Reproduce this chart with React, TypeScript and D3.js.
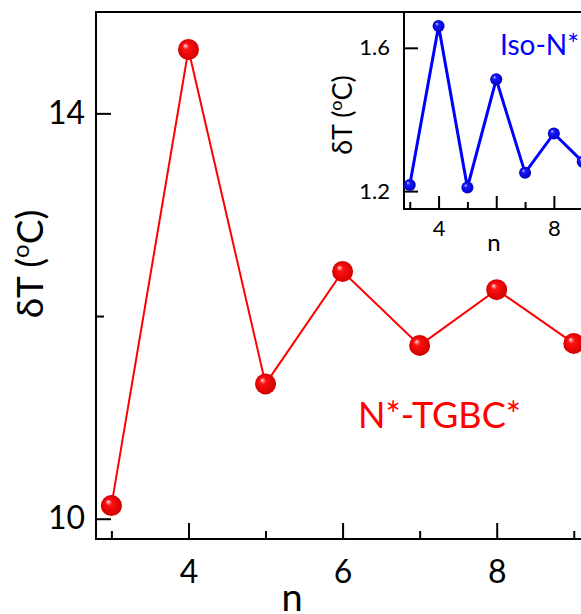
import * as d3 from "d3";
import { useEffect, useRef } from "react";

// values
const nValues = [3, 4, 5, 6, 7, 8, 9];
const mainDeltaT = [10.13, 14.63, 11.33, 12.44, 11.71, 12.26, 11.73];
const insetDeltaT = [1.217, 1.661, 1.21, 1.512, 1.251, 1.361, 1.282];

const mainXMajor = [4, 6, 8];
const mainXMinor = [3, 5, 7, 9];
const mainYMajor = [10, 14];
const mainYMinor = [12];
const insetXMajor = [4, 6, 8];
const insetXLabels = [4, 8];
const insetXMinor = [3, 5, 7, 9];
const insetYMajor = [1.2, 1.6];

const FONT = "Lato, 'Open Sans', sans-serif";

export default function App() {
  const ref = useRef<SVGSVGElement>(null);

  useEffect(() => {
    const svg = d3.select(ref.current);
    svg.selectAll("*").remove();

    const defs = svg.append("defs");
    const ballGrad = (id: string, light: string, mid: string, dark: string) => {
      const g = defs.append("radialGradient")
        .attr("id", id)
        .attr("cx", "50%").attr("cy", "50%").attr("r", "50%")
        .attr("fx", "33%").attr("fy", "30%");
      g.append("stop").attr("offset", "0%").attr("stop-color", light);
      g.append("stop").attr("offset", "30%").attr("stop-color", mid);
      g.append("stop").attr("offset", "100%").attr("stop-color", dark);
    };
    ballGrad("redBall", "#ffe0e0", "#ff1010", "#d00000");
    ballGrad("blueBall", "#d0d0ff", "#1a1aff", "#0000c0");

    // main panel
    const x = d3.scaleLinear().domain([2.8, 9.6]).range([96, 620]);
    const y = d3.scaleLinear().domain([9.8, 15.0]).range([539, 12]);

    const main = svg.append("g");

    const xMaj = main.append("g")
      .attr("transform", "translate(0,539)")
      .call(d3.axisBottom(x).tickValues(mainXMajor).tickSize(-16).tickPadding(21).tickFormat(d3.format("d")));
    main.append("g")
      .attr("transform", "translate(0,539)")
      .call(d3.axisBottom(x).tickValues(mainXMinor).tickSize(-8).tickFormat(() => ""));
    const yMaj = main.append("g")
      .attr("transform", "translate(96,0)")
      .call(d3.axisLeft(y).tickValues(mainYMajor).tickSize(-15).tickPadding(11).tickFormat(d3.format("d")));
    main.append("g")
      .attr("transform", "translate(96,0)")
      .call(d3.axisLeft(y).tickValues(mainYMinor).tickSize(-8).tickFormat(() => ""));

    main.selectAll(".domain").remove();
    main.selectAll(".tick line").attr("stroke", "#000").attr("stroke-width", 2);
    [xMaj, yMaj].forEach(g => g.selectAll("text")
      .attr("font-family", FONT).attr("font-size", 32).attr("fill", "#000"));

    // frame
    main.append("path")
      .attr("d", "M620,12H96V539H620")
      .attr("fill", "none").attr("stroke", "#000").attr("stroke-width", 2);

    const line = d3.line<number>().x((_, i) => x(nValues[i])).y(d => y(d));
    main.append("path")
      .attr("d", line(mainDeltaT))
      .attr("fill", "none").attr("stroke", "#ff0000").attr("stroke-width", 2);
    main.selectAll("circle.pt")
      .data(mainDeltaT)
      .join("circle")
      .attr("class", "pt")
      .attr("cx", (_, i) => x(nValues[i]))
      .attr("cy", d => y(d))
      .attr("r", 10.5)
      .attr("fill", "url(#redBall)");

    main.append("text")
      .attr("x", 292).attr("y", 611)
      .attr("text-anchor", "middle")
      .attr("font-family", FONT).attr("font-size", 38)
      .text("n");

    const yl = main.append("text")
      .attr("transform", "translate(43,264) rotate(-90)")
      .attr("text-anchor", "middle")
      .attr("font-family", FONT).attr("font-size", 37);
    yl.append("tspan").text("δT (");
    yl.append("tspan").attr("font-size", 24).attr("dy", -14).text("o");
    yl.append("tspan").attr("dy", 14).text("C)");

    main.append("text")
      .attr("x", 358).attr("y", 428)
      .attr("font-family", FONT).attr("font-size", 36)
      .attr("fill", "#ff0000")
      .text("N*-TGBC*");

    // inset
    const xi = d3.scaleLinear().domain([2.8, 9.6]).range([404, 600]);
    const yi = d3.scaleLinear().domain([1.15, 1.7]).range([209, 12]);

    const inset = svg.append("g");
    inset.append("rect")
      .attr("x", 404).attr("y", 12).attr("width", 216).attr("height", 197)
      .attr("fill", "#fff").attr("stroke", "#000").attr("stroke-width", 2);

    inset.append("g")
      .attr("transform", "translate(0,209)")
      .call(d3.axisBottom(xi).tickValues(insetXMajor).tickSize(-13).tickFormat(() => ""));
    inset.append("g")
      .attr("transform", "translate(0,209)")
      .call(d3.axisBottom(xi).tickValues(insetXMinor).tickSize(-7).tickFormat(() => ""));
    const xiLab = inset.append("g")
      .attr("transform", "translate(0,209)")
      .call(d3.axisBottom(xi).tickValues(insetXLabels).tickSize(0).tickPadding(11).tickFormat(d3.format("d")));
    const yiLab = inset.append("g")
      .attr("transform", "translate(404,0)")
      .call(d3.axisLeft(yi).tickValues(insetYMajor).tickSize(-14).tickPadding(14).tickFormat(d3.format(".1f")));

    inset.selectAll(".domain").remove();
    inset.selectAll(".tick line").attr("stroke", "#000").attr("stroke-width", 2);
    [xiLab, yiLab].forEach(g => g.selectAll("text")
      .attr("font-family", FONT).attr("font-size", 22).attr("fill", "#000"));

    const lineI = d3.line<number>().x((_, i) => xi(nValues[i])).y(d => yi(d));
    inset.append("path")
      .attr("d", lineI(insetDeltaT))
      .attr("fill", "none").attr("stroke", "#0000ff").attr("stroke-width", 3);
    inset.selectAll("circle.pt")
      .data(insetDeltaT)
      .join("circle")
      .attr("class", "pt")
      .attr("cx", (_, i) => xi(nValues[i]))
      .attr("cy", d => yi(d))
      .attr("r", 6)
      .attr("fill", "url(#blueBall)");

    inset.append("text")
      .attr("x", 494).attr("y", 251)
      .attr("text-anchor", "middle")
      .attr("font-family", FONT).attr("font-size", 24)
      .text("n");

    const yil = inset.append("text")
      .attr("transform", "translate(352,115) rotate(-90)")
      .attr("text-anchor", "middle")
      .attr("font-family", FONT).attr("font-size", 27);
    yil.append("tspan").text("δT (");
    yil.append("tspan").attr("font-size", 18).attr("dy", -10).text("o");
    yil.append("tspan").attr("dy", 10).text("C)");

    inset.append("text")
      .attr("x", 500).attr("y", 55)
      .attr("font-family", FONT).attr("font-size", 28)
      .attr("fill", "#0000ff")
      .text("Iso-N*");
  }, []);

  return (
    <svg ref={ref} width={581} height={614}
      style={{ position: "absolute", left: 0, top: 0, background: "#fff" }} />
  );
}
